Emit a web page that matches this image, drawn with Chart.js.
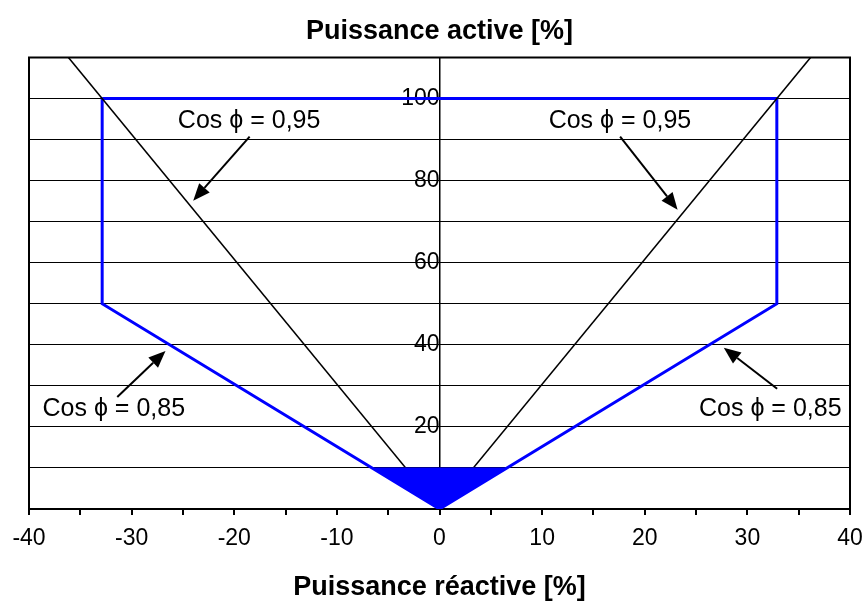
<!DOCTYPE html>
<html>
<head>
<meta charset="utf-8">
<script src="https://cdn.jsdelivr.net/npm/chart.js@4/dist/chart.umd.min.js"></script>
<style>
    html, body { margin: 0; padding: 0; background: #fff; }
    #wrap { width: 866px; height: 606px; }
</style>
</head>
<body>
<div id="wrap"><canvas id="chart"></canvas></div>
<script>
'use strict';

// Enveloppe Q/P (bleu)
var envelopeQ = [-32.87, 32.87, 32.87, 0, -32.87, -32.87];
var envelopeP = [100, 100, 50, 0, 50, 100];

// Zone pleine sous 10 %
var zoneQ = [-6.57, 0, 6.57, -6.57];
var zoneP = [10, 0, 10, 10];

// Droites cos phi = 0,95
var leftLineQ = [-36.16, -3.29];
var leftLineP = [110, 10];
var rightLineQ = [3.29, 36.16];
var rightLineP = [10, 110];

// Etiquettes et fleches
var noteTexts = ['Cos \u03d5 = 0,95', 'Cos \u03d5 = 0,95', 'Cos \u03d5 = 0,85', 'Cos \u03d5 = 0,85'];
var noteQ = [-18.55, 17.58, -31.74, 32.23];
var noteP = [94.4, 94.4, 24.4, 24.4];
var arrowFromQ = [-18.5, 17.6, -31.4, 32.9];
var arrowFromP = [90.7, 90.7, 27.3, 29.3];
var arrowToQ = [-24.0, 23.2, -26.7, 27.7];
var arrowToP = [75.1, 72.9, 38.5, 39.3];

var xLabelStep = 10;
var yLabels = [20, 40, 60, 80, 100];

var toPoints = function (xs, ys) {
    return xs.map(function (x, i) { return { x: x, y: ys[i] }; });
};

var FONT = "'Liberation Sans', Arial, sans-serif";

var framePlugin = {
    id: 'frame',
    afterDraw: function (chart) {
        var a = chart.chartArea;
        var ctx = chart.ctx;
        ctx.save();
        ctx.strokeStyle = '#000';
        ctx.lineWidth = 2;
        ctx.beginPath();
        ctx.moveTo(a.left, a.bottom);
        ctx.lineTo(a.left, a.top);
        ctx.lineTo(a.right, a.top);
        ctx.lineTo(a.right, a.bottom);
        ctx.stroke();
        ctx.restore();
    }
};

var notesPlugin = {
    id: 'notes',
    afterDatasetsDraw: function (chart) {
        var ctx = chart.ctx;
        var sx = chart.scales.x, sy = chart.scales.y;
        ctx.save();
        ctx.fillStyle = '#000';
        ctx.strokeStyle = '#000';
        ctx.font = '25px ' + FONT;
        ctx.textAlign = 'center';
        ctx.textBaseline = 'middle';
        noteTexts.forEach(function (t, i) {
            ctx.fillText(t, sx.getPixelForValue(noteQ[i]), sy.getPixelForValue(noteP[i]));
        });
        ctx.lineWidth = 2;
        arrowFromQ.forEach(function (q, i) {
            var x1 = sx.getPixelForValue(q), y1 = sy.getPixelForValue(arrowFromP[i]);
            var x2 = sx.getPixelForValue(arrowToQ[i]), y2 = sy.getPixelForValue(arrowToP[i]);
            var ang = Math.atan2(y2 - y1, x2 - x1);
            var len = 17, half = 7;
            var bx = x2 - len * Math.cos(ang), by = y2 - len * Math.sin(ang);
            ctx.beginPath();
            ctx.moveTo(x1, y1);
            ctx.lineTo(bx, by);
            ctx.stroke();
            ctx.beginPath();
            ctx.moveTo(x2, y2);
            ctx.lineTo(bx + half * Math.sin(ang), by - half * Math.cos(ang));
            ctx.lineTo(bx - half * Math.sin(ang), by + half * Math.cos(ang));
            ctx.closePath();
            ctx.fill();
        });
        ctx.restore();
    }
};

var ctx = document.getElementById('chart').getContext('2d');
var chart = new Chart(ctx, {
    type: 'scatter',
    data: {
        datasets: [
            {
                data: toPoints(zoneQ, zoneP),
                showLine: true,
                fill: 'shape',
                backgroundColor: '#0000ff',
                borderColor: '#0000ff',
                borderWidth: 1,
                pointRadius: 0
            },
            {
                data: toPoints(leftLineQ, leftLineP),
                showLine: true,
                borderColor: '#000',
                borderWidth: 1.5,
                pointRadius: 0
            },
            {
                data: toPoints(rightLineQ, rightLineP),
                showLine: true,
                borderColor: '#000',
                borderWidth: 1.5,
                pointRadius: 0
            },
            {
                data: toPoints(envelopeQ, envelopeP),
                showLine: true,
                borderColor: '#0000ff',
                borderWidth: 3,
                pointRadius: 0
            }
        ]
    },
    options: {
        responsive: true,
        maintainAspectRatio: false,
        animation: false,
        events: [],
        layout: { padding: { left: 29, right: 16, top: 0, bottom: 0 } },
        plugins: {
            legend: { display: false },
            tooltip: { enabled: false },
            title: {
                display: true,
                text: 'Puissance active [%]',
                color: '#000',
                font: { family: FONT, size: 27, weight: 'bold' },
                padding: { top: 15, bottom: 10 }
            }
        },
        scales: {
            x: {
                type: 'linear',
                min: -40,
                max: 40,
                afterFit: function (s) {
                    s.height = 97;
                    s.paddingLeft = 0;
                    s.paddingRight = 0;
                },
                border: { display: true, color: '#000', width: 2 },
                grid: { drawOnChartArea: false, color: '#000', lineWidth: 2, tickLength: 6 },
                ticks: {
                    stepSize: 5,
                    autoSkip: false,
                    maxRotation: 0,
                    color: '#000',
                    padding: 10,
                    font: { family: FONT, size: 23 },
                    callback: function (v) { return v % xLabelStep === 0 ? String(v) : ''; }
                },
                title: {
                    display: true,
                    text: 'Puissance réactive [%]',
                    color: '#000',
                    font: { family: FONT, size: 27, weight: 'bold' },
                    padding: { top: 19, bottom: 2 }
                }
            },
            y: {
                type: 'linear',
                position: { x: 0 },
                min: 0,
                max: 110,
                border: { display: true, color: '#000', width: 1.5 },
                grid: { color: '#000', lineWidth: 1, drawTicks: false },
                ticks: {
                    stepSize: 10,
                    autoSkip: false,
                    color: '#000',
                    padding: 10,
                    font: { family: FONT, size: 23 },
                    callback: function (v) { return yLabels.indexOf(v) >= 0 ? String(v) : ''; }
                }
            }
        }
    },
    plugins: [framePlugin, notesPlugin]
});
</script>
</body>
</html>
